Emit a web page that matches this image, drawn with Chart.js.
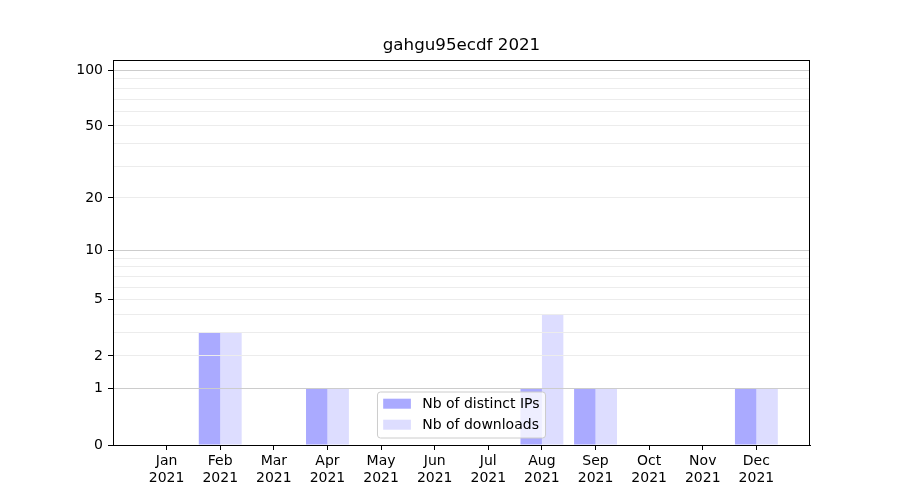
<!DOCTYPE html>
<html>
<head>
<meta charset="utf-8">
<script src="https://cdn.jsdelivr.net/npm/chart.js@4.4.1/dist/chart.umd.min.js"></script>
<style>
  html, body { margin: 0; padding: 0; background: #fff; }
  #wrap { width: 900px; height: 500px; }
</style>
</head>
<body>
<div id="wrap"><canvas id="chart" width="900" height="500"></canvas></div>
<script>
// --- data ---
const months = ['Jan', 'Feb', 'Mar', 'Apr', 'May', 'Jun', 'Jul', 'Aug', 'Sep', 'Oct', 'Nov', 'Dec'];
const year = '2021';
const distinctIps = [0, 3, 0, 1, 0, 0, 0, 1, 1, 0, 0, 1];
const downloads = [0, 3, 0, 1, 0, 0, 0, 4, 1, 0, 0, 1];
const yTickLabels = [0, 1, 2, 5, 10, 20, 50, 100];
const yMinorTicks = [3, 4, 6, 7, 8, 9, 30, 40, 60, 70, 80, 90];
const yMajorGrid = [1, 10, 100];
const yMax = 114;
const chartTitle = 'gahgu95ecdf 2021';

const FONT = 'DejaVu Sans';

// log10(1 + v) axis, like the reference's y scale
class Log1pScale extends Chart.LinearScale {
    getPixelForValue(value) {
        const f = v => Math.log10(1 + v);
        const lo = f(this.min), hi = f(this.max);
        return this.getPixelForDecimal((f(value) - lo) / (hi - lo));
    }
    getValueForPixel(pixel) {
        const f = v => Math.log10(1 + v);
        const lo = f(this.min), hi = f(this.max);
        return Math.pow(10, lo + this.getDecimalForPixel(pixel) * (hi - lo)) - 1;
    }
}
Log1pScale.id = 'log1p';
Log1pScale.defaults = Chart.LinearScale.defaults;
Chart.register(Log1pScale);

// title over the plot, box around the plot, legend inside the plot at bottom centre
const framePlugin = {
    id: 'frame',
    afterDraw(chart) {
        const ctx = chart.ctx;
        const area = chart.chartArea;
        const cx = (area.left + area.right) / 2;
        ctx.save();
        ctx.strokeStyle = '#000';
        ctx.lineWidth = 1;
        ctx.strokeRect(Math.round(area.left) + 0.5, Math.round(area.top) + 0.5,
            Math.round(area.right - area.left) - 1, Math.round(area.bottom - area.top));

        ctx.fillStyle = '#000';
        ctx.font = '16.7px "' + FONT + '"';
        ctx.textAlign = 'center';
        ctx.textBaseline = 'middle';
        ctx.fillText(chartTitle, cx, area.top - 14);

        ctx.font = '14px "' + FONT + '"';
        const items = chart.data.datasets;
        const textW = Math.max(...items.map(d => ctx.measureText(d.label).width));
        const w = 5.7 + 27.7 + 11.3 + textW + 6;
        const h = 46;
        const x = cx - w / 2;
        const y = area.bottom - 7 - h;
        ctx.beginPath();
        ctx.roundRect(x, y, w, h, 3);
        ctx.fillStyle = 'rgba(255,255,255,0.8)';
        ctx.fill();
        ctx.strokeStyle = 'rgba(204,204,204,1)';
        ctx.stroke();
        items.forEach((d, i) => {
            const ry = y + 6.7 + i * 21;
            ctx.fillStyle = d.backgroundColor;
            ctx.fillRect(x + 5.7, ry, 27.7, 10);
            ctx.fillStyle = '#000';
            ctx.textBaseline = 'middle';
            ctx.textAlign = 'left';
            ctx.fillText(d.label, x + 5.7 + 27.7 + 11.3, ry + 5.5);
        });
        ctx.restore();
    }
};

Chart.defaults.color = '#000';
Chart.defaults.font.family = FONT;

new Chart(document.getElementById('chart'), {
    type: 'bar',
    data: {
        datasets: [{
            label: 'Nb of distinct IPs',
            data: distinctIps.map((v, i) => ({ x: i + 1, y: v })),
            backgroundColor: 'rgb(170,170,255)',
            borderWidth: 0
        }, {
            label: 'Nb of downloads',
            data: downloads.map((v, i) => ({ x: i + 1, y: v })),
            backgroundColor: 'rgb(221,221,255)',
            borderWidth: 0
        }]
    },
    plugins: [framePlugin],
    options: {
        responsive: false,
        animation: false,
        devicePixelRatio: 1,
        layout: { padding: { left: 0, right: 90, top: 60, bottom: 0 } },
        categoryPercentage: 0.8,
        barPercentage: 1.0,
        plugins: {
            legend: { display: false },
            tooltip: { enabled: false },
            title: { display: false }
        },
        scales: {
            x: {
                type: 'linear',
                min: 0,
                max: 13,
                offset: false,
                afterFit: s => { s.height = 55; },
                afterBuildTicks: s => { s.ticks = months.map((m, i) => ({ value: i + 1 })); },
                ticks: {
                    autoSkip: false,
                    maxRotation: 0,
                    padding: 3,
                    font: { size: 14, family: FONT, lineHeight: 1.2 },
                    callback: v => [months[v - 1], year]
                },
                grid: { offset: false, drawOnChartArea: false, tickLength: 5, tickColor: '#000' },
                border: { color: '#000', width: 1 }
            },
            y: {
                type: 'log1p',
                min: 0,
                max: yMax,
                bounds: 'data',
                afterFit: s => { s.width = 113; },
                afterBuildTicks: s => {
                    s.ticks = yTickLabels.concat(yMinorTicks).sort((a, b) => a - b).map(v => ({ value: v }));
                },
                ticks: {
                    autoSkip: false,
                    padding: 5,
                    font: { size: 14, family: FONT },
                    callback: v => yTickLabels.includes(v) ? String(v) : ''
                },
                grid: {
                    z: 1,
                    tickLength: 5,
                    lineWidth: 1,
                    color: c => {
                        const v = c.tick ? c.tick.value : 0;
                        if (v === 0) return 'rgba(0,0,0,0)';
                        return yMajorGrid.includes(v) ? 'rgb(204,204,204)' : 'rgb(236,236,236)';
                    },
                    tickColor: c => (c.tick && yTickLabels.includes(c.tick.value)) ? '#000' : 'rgba(0,0,0,0)'
                },
                border: { color: '#000', width: 1, z: 2 }
            }
        }
    }
});
</script>
</body>
</html>
